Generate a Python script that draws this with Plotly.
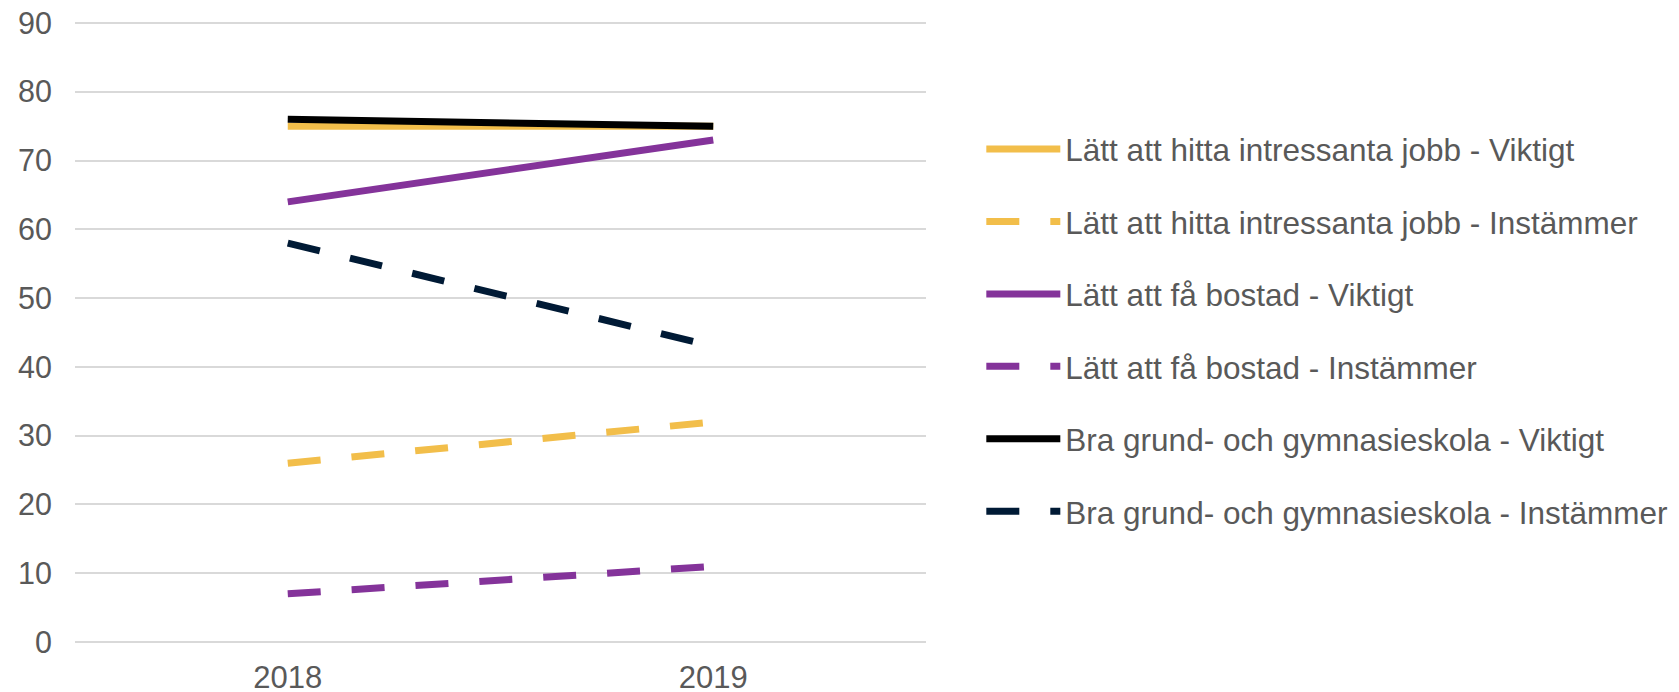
import plotly.graph_objects as go

years = ["2018", "2019"]
series_names = [
    "Lätt att hitta intressanta jobb - Viktigt",
    "Lätt att hitta intressanta jobb - Instämmer",
    "Lätt att få bostad - Viktigt",
    "Lätt att få bostad - Instämmer",
    "Bra grund- och gymnasieskola - Viktigt",
    "Bra grund- och gymnasieskola - Instämmer",
]
jobb_viktigt = [75, 75]
jobb_instammer = [26, 32]
bostad_viktigt = [64, 73]
bostad_instammer = [7, 11]
skola_viktigt = [76, 75]
skola_instammer = [58, 43]

values = [jobb_viktigt, jobb_instammer, bostad_viktigt, bostad_instammer, skola_viktigt, skola_instammer]
colors = ["#F2BE4A", "#F2BE4A", "#84339A", "#84339A", "#000000", "#001A35"]
dashes = ["solid", "33px,31px", "solid", "33px,31px", "solid", "33px,31px"]

fig = go.Figure()
# draw order: solid black over yellow
order = [1, 3, 5, 0, 2, 4]
traces = {}
for i in range(6):
    traces[i] = go.Scatter(
        x=years, y=values[i], name=series_names[i], mode="lines",
        line=dict(color=colors[i], width=7, dash=dashes[i]),
        legendgroup=f"g{i}", legendrank=i + 1,
    )
for i in order:
    fig.add_trace(traces[i])

fig.update_layout(
    width=1679, height=692,
    margin=dict(l=67, r=761, t=14, b=58, autoexpand=False),
    paper_bgcolor="white", plot_bgcolor="white",
    font=dict(family="Liberation Sans, Arial, sans-serif", size=31, color="#595959"),
    showlegend=True,
    legend=dict(
        x=1.065, xanchor="left", y=0.5024, yanchor="middle",
        font=dict(family="Liberation Sans, Arial, sans-serif", size=31.5, color="#595959"),
        tracegroupgap=28.5, itemwidth=74, bgcolor="rgba(0,0,0,0)",
        traceorder="grouped",
    ),
    xaxis=dict(type="category", range=[-0.5, 1.5], showgrid=False, showline=False,
               ticks="", automargin=False, ticklabelstandoff=14,
               ticklabeloverflow="allow",
               tickfont=dict(size=31, color="#595959")),
    yaxis=dict(range=[0, 90.15], tickvals=[0, 10, 20, 30, 40, 50, 60, 70, 80, 90],
               showgrid=True, gridcolor="#D9D9D9", gridwidth=1.5,
               zeroline=True, zerolinecolor="#D9D9D9", zerolinewidth=1.5,
               showline=False, ticks="", automargin=False, ticklabelstandoff=22,
               ticklabeloverflow="allow",
               tickfont=dict(size=30.5, color="#595959")),
)

fig.write_html("out.html")
